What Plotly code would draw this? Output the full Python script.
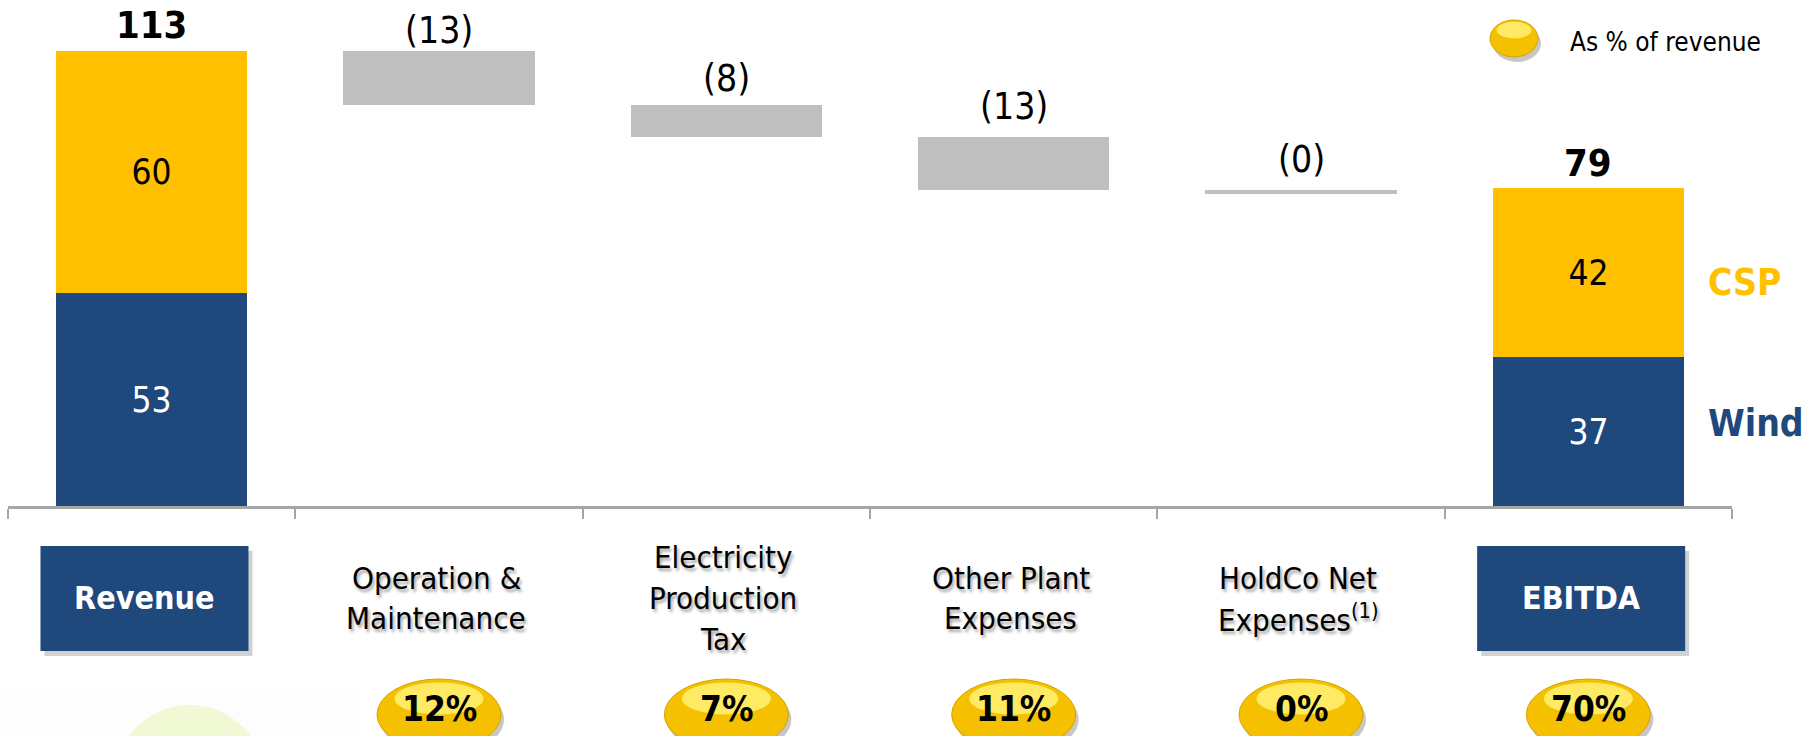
import plotly.graph_objects as go

# ---------------- data ----------------
categories = ["Revenue", "Operation & Maintenance", "Electricity Production Tax",
              "Other Plant Expenses", "HoldCo Net Expenses", "EBITDA"]
total_positions = [0, 5]            # Revenue, EBITDA
csp_values = [60, 42]
wind_values = [53, 37]
expense_positions = [1, 2, 3, 4]
expense_values = [-13.4, -7.9, -13.3, -0.8]
expense_labels = ["(13)", "(8)", "(13)", "(0)"]
pct_positions = [1, 2, 3, 4, 5]
pct_labels = ["12%", "7%", "11%", "0%", "70%"]
category_lines = [["Revenue"], ["Operation &", "Maintenance"],
                  ["Electricity", "Production", "Tax"],
                  ["Other Plant", "Expenses"],
                  ["HoldCo Net", "Expenses<sup>(1)</sup>"], ["EBITDA"]]
boxed_categories = [0, 5]

# ---------------- style ----------------
FONT = "DejaVu Sans Condensed, DejaVu Sans, sans-serif"
YELLOW = "#FFC000"
NAVY = "#1F497D"
GRAY = "#BFBFBF"
AXIS = "#A6A6A6"
W, H = 1820, 736
ML, MR, MT, MB = 8, 88, 0, 230
PLOT_W = W - ML - MR
PLOT_H = H - MT - MB
PX_PER_UNIT = 4.027
YMAX = PLOT_H / PX_PER_UNIT
N = len(categories)
TOTAL_LABEL_SHIFT = [26, 25]
EXPENSE_LABEL_SHIFT = [20, 26, 30, 31]


def px_x(px):
    return (px - ML) / PLOT_W


def px_y(py):
    return (MT + PLOT_H - py) / PLOT_H


def cat_x(i):
    return (i + 0.5) / N


fig = go.Figure()

fig.add_trace(go.Bar(
    x=total_positions, y=wind_values, width=0.665,
    marker=dict(color=NAVY, line=dict(width=0)),
    text=[str(v) for v in wind_values], textposition="inside",
    insidetextanchor="middle", textangle=0,
    textfont=dict(family=FONT, size=35, color="white"),
    hoverinfo="skip", showlegend=False))

fig.add_trace(go.Bar(
    x=total_positions, y=csp_values, base=wind_values, width=0.665,
    marker=dict(color=YELLOW, line=dict(width=0)),
    text=[str(v) for v in csp_values], textposition="inside",
    insidetextanchor="middle", textangle=0,
    textfont=dict(family=FONT, size=35, color="black"),
    hoverinfo="skip", showlegend=False))

totals = [c + w for c, w in zip(csp_values, wind_values)]
running = totals[0]
bases, heights, tops = [], [], []
for d in expense_values:
    tops.append(running)
    bases.append(running + d)
    heights.append(-d)
    running += d

fig.add_trace(go.Bar(
    x=expense_positions, y=heights, base=bases, width=0.665,
    marker=dict(color=GRAY, line=dict(width=0)),
    hoverinfo="skip", showlegend=False))

annotations = []
for x, t, s in zip(total_positions, totals, TOTAL_LABEL_SHIFT):
    annotations.append(dict(x=x, y=t, xref="x", yref="y", text=f"<b>{t}</b>",
                            showarrow=False, yanchor="middle", yshift=s,
                            font=dict(family=FONT, size=38, color="black")))
for x, t, lab, s in zip(expense_positions, tops, expense_labels, EXPENSE_LABEL_SHIFT):
    annotations.append(dict(x=x, y=t, xref="x", yref="y", text=lab,
                            showarrow=False, yanchor="middle", yshift=s,
                            font=dict(family=FONT, size=37, color="black")))

# series labels on the right
annotations.append(dict(x=5.41, y=wind_values[1] + csp_values[1] / 2, xref="x", yref="y",
                        text="<b>CSP</b>", showarrow=False, xanchor="left", yanchor="middle",
                        yshift=-10, font=dict(family=FONT, size=37, color=YELLOW)))
annotations.append(dict(x=5.41, y=wind_values[1] / 2, xref="x", yref="y",
                        text="<b>Wind</b>", showarrow=False, xanchor="left", yanchor="middle",
                        yshift=8, font=dict(family=FONT, size=37, color=NAVY)))

shapes = []

# faint background decoration bottom-left
shapes.append(dict(type="rect", xref="paper", yref="paper", layer="below",
                   x0=px_x(0), x1=px_x(360), y0=px_y(688), y1=px_y(740),
                   fillcolor="rgba(250,240,240,0.15)", line=dict(width=0)))
shapes.append(dict(type="circle", xref="paper", yref="paper", layer="below",
                   x0=px_x(115), x1=px_x(265), y0=px_y(705), y1=px_y(855),
                   fillcolor="rgba(225,245,170,0.5)", line=dict(width=0)))

# category labels
line_y = {1: [598], 2: [578, 618], 3: [557, 598, 639]}
for i, lines in enumerate(category_lines):
    if i in boxed_categories:
        cx = cat_x(i) - 0.025 / N
        hw = 0.362 / N
        shapes.append(dict(type="rect", xref="paper", yref="paper",
                           x0=cx - hw + 4 / PLOT_W, x1=cx + hw + 4 / PLOT_W,
                           y0=px_y(656), y1=px_y(551),
                           fillcolor="rgba(0,0,0,0.18)", line=dict(width=0)))
        shapes.append(dict(type="rect", xref="paper", yref="paper",
                           x0=cx - hw, x1=cx + hw, y0=px_y(651), y1=px_y(546),
                           fillcolor=NAVY, line=dict(width=0)))
        annotations.append(dict(x=cx, y=px_y(598), xref="paper", yref="paper",
                                text=f"<b>{lines[0]}</b>", showarrow=False,
                                xanchor="center", yanchor="middle",
                                font=dict(family=FONT, size=32, color="white")))
    else:
        for ln, yy in zip(lines, line_y[len(lines)]):
            annotations.append(dict(x=cat_x(i) - 0.01 / N, y=px_y(yy), xref="paper",
                                    yref="paper", text=ln, showarrow=False,
                                    xanchor="center", yanchor="middle",
                                    font=dict(family=FONT, size=31, color="black",
                                              shadow="2px 3px 3px rgba(0,0,0,0.35)")))


def gold_ball(cxp, top, bottom, hw_px):
    hw = hw_px / PLOT_W
    out = []
    out.append(dict(type="circle", xref="paper", yref="paper",
                    x0=cxp - hw + 3 / PLOT_W, x1=cxp + hw + 3 / PLOT_W,
                    y0=px_y(bottom + 5), y1=px_y(top + 5),
                    fillcolor="rgba(0,0,0,0.22)", line=dict(width=0)))
    out.append(dict(type="circle", xref="paper", yref="paper",
                    x0=cxp - hw, x1=cxp + hw, y0=px_y(bottom), y1=px_y(top),
                    fillcolor="#F5C000", line=dict(color="#D6A300", width=1)))
    h = bottom - top
    out.append(dict(type="circle", xref="paper", yref="paper",
                    x0=cxp - hw * 0.72, x1=cxp + hw * 0.72,
                    y0=px_y(top + h * 0.5), y1=px_y(top + h * 0.05),
                    fillcolor="rgba(255,240,110,0.9)", line=dict(width=0)))
    return out


for p, lab in zip(pct_positions, pct_labels):
    shapes += gold_ball(cat_x(p), 679, 750, 62)
    annotations.append(dict(x=cat_x(p), y=px_y(709), xref="paper", yref="paper",
                            text=f"<b>{lab}</b>", showarrow=False, xanchor="center",
                            yanchor="middle",
                            font=dict(family=FONT, size=35, color="black")))

# legend marker
shapes += gold_ball(px_x(1514), 20, 57, 24)
annotations.append(dict(x=px_x(1568), y=px_y(42), xref="paper", yref="paper",
                        text="As % of revenue", showarrow=False, xanchor="left",
                        yanchor="middle", font=dict(family=FONT, size=26, color="black")))

fig.update_layout(
    width=W, height=H, margin=dict(l=ML, r=MR, t=MT, b=MB),
    paper_bgcolor="white", plot_bgcolor="rgba(0,0,0,0)",
    barmode="overlay", bargap=0, showlegend=False,
    shapes=shapes, annotations=annotations,
    xaxis=dict(range=[-0.5, N - 0.5], showgrid=False, zeroline=False,
               showline=True, linecolor=AXIS, linewidth=2.5,
               tickmode="array", tickvals=[k - 0.5 for k in range(N + 1)],
               ticks="outside", ticklen=10, tickwidth=2, tickcolor=AXIS,
               showticklabels=False, fixedrange=True),
    yaxis=dict(range=[0, YMAX], visible=False, fixedrange=True),
)

fig.write_html("out.html", config={"displayModeBar": False},
               post_script="document.body.style.margin='0px';")
